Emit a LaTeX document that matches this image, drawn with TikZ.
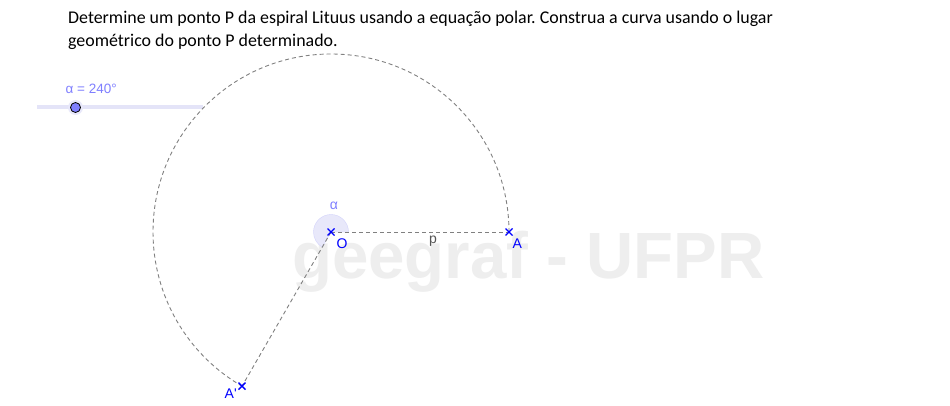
\documentclass[tikz,border=0pt]{standalone}
\usetikzlibrary{calc}
\usepackage{fontspec}
\setmainfont{Carlito}
\newfontfamily\ggfont{Liberation Sans}
\newfontfamily\wmfont{Liberation Sans}
\definecolor{ggblue}{HTML}{0000FF}
\definecolor{gglabel}{HTML}{7F7FFF}
\definecolor{ggline}{HTML}{808080}
\definecolor{ggsector}{HTML}{E8E8FA}
\definecolor{ggslider}{HTML}{E4E4F8}
\definecolor{wmgray}{HTML}{EEEEEE}
\definecolor{ptext}{HTML}{555555}
\tikzset{
  ggdash/.style={draw=ggline, line width=0.9pt, dash pattern=on 4pt off 3pt},
  ptcross/.style={draw=ggblue, line width=1.4pt},
  ptlabel/.style={text=ggblue, font=\ggfont\fontsize{14}{16}\selectfont, inner sep=0pt},
}
\frenchspacing
\begin{document}
\begin{tikzpicture}[x=1pt,y=1pt]
\useasboundingbox[fill=white] (0,-406) rectangle (950,0);
% watermark
\node[anchor=base west, inner sep=0pt, text=wmgray, font=\wmfont\bfseries\fontsize{65.4}{67}\selectfont] (wm) at (292,-278) {geegraf - UFPR};
% title
\node[anchor=base west, inner sep=0pt, align=left, font=\fontsize{17.9}{23.4}\selectfont] (title) at (68,-46.7)
  {Determine um ponto P da espiral Lituus usando a equação polar. Construa a curva usando o lugar\\geométrico do ponto P determinado.};
% slider
\coordinate (s1) at (37,-107.5);
\coordinate (s2) at (203,-107.5);
\draw[ggslider, line width=4pt] (s1) -- (s2);
\fill[ggsector] (75.5,-107.5) circle (7.5);
\node[circle, draw=black, fill=gglabel, line width=0.8pt, minimum size=10pt, inner sep=0pt] (knob) at (75.5,-107.5) {};
\node[anchor=base west, inner sep=0pt, text=gglabel, font=\ggfont\fontsize{13.5}{16}\selectfont] (alab) at (65.5,-94) {α = 240°};
% points
\coordinate (O) at (331,-232);
\coordinate (A) at (509,-232);
\coordinate (Ap) at ($(O)+(240:178)$);
% angle sector
\filldraw[fill=ggsector, draw=ggsector!80!gglabel, line width=0.4pt] (O) -- ++(0:17.5) arc[start angle=0, end angle=240, radius=17.5] -- cycle;
\node[text=gglabel, font=\ggfont\fontsize{14}{16}\selectfont, inner sep=0pt] (alpha) at (334,-206) {α};
% curves
\draw[ggdash] (A) arc[start angle=0, end angle=240, radius=178];
\draw[ggdash] (O) -- (A);
\draw[ggdash] (O) -- (Ap);
\node[text=ptext, font=\ggfont\fontsize{14}{16}\selectfont, inner sep=0pt] (p) at (433,-241) {p};
% crosses
\foreach \P in {O,A,Ap}{
  \draw[ptcross] ($(\P)+(-3.5,-3.5)$) -- ($(\P)+(3.5,3.5)$);
  \draw[ptcross] ($(\P)+(-3.5,3.5)$) -- ($(\P)+(3.5,-3.5)$);
}
\node[ptlabel, anchor=base west] (Olab) at (336.5,-248.5) {O};
\node[ptlabel, anchor=base west] (Alab) at (512.5,-248) {A};
\node[ptlabel, anchor=base west] (Aplab) at (224.5,-398) {A'};
\end{tikzpicture}
\end{document}
